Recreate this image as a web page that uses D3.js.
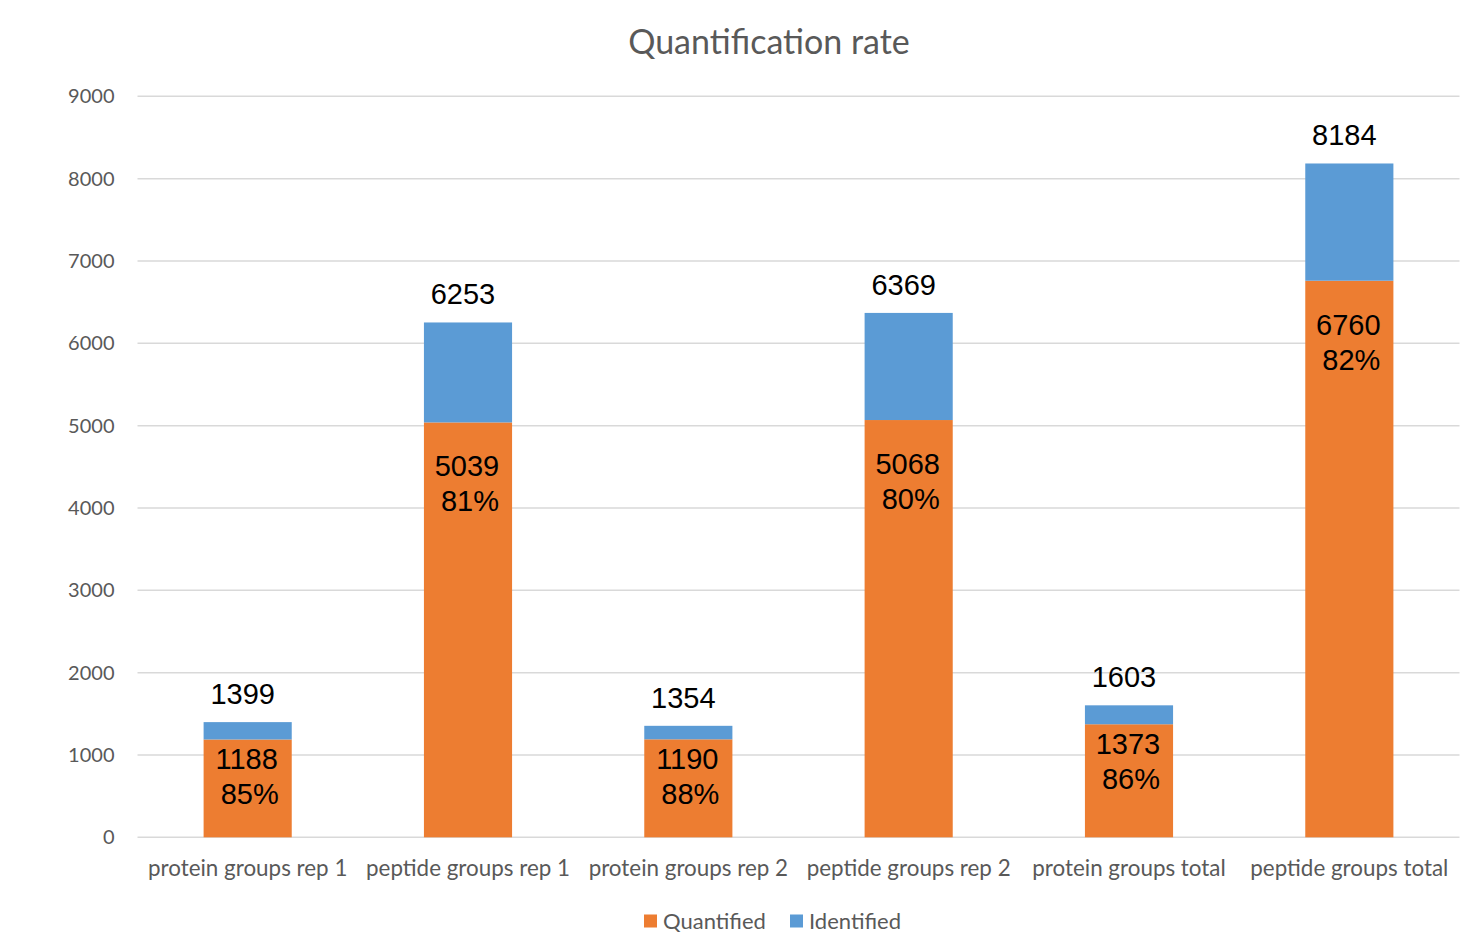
<!DOCTYPE html>
<html>
<head>
<meta charset="utf-8">
<script src="https://cdn.jsdelivr.net/npm/d3@7/dist/d3.min.js"></script>
<style>
  html, body { margin: 0; padding: 0; background: #ffffff; }
  svg { display: block; }
</style>
</head>
<body>
<script>
// Chart data
const categories = [
  "protein groups rep 1",
  "peptide groups rep 1",
  "protein groups rep 2",
  "peptide groups rep 2",
  "protein groups total",
  "peptide groups total"
];
const totals = [1399, 6253, 1354, 6369, 1603, 8184];       // identified in total
const quantified = [1188, 5039, 1190, 5068, 1373, 6760];   // quantified subset
const quantifiedPct = [85, 81, 88, 80, 86, 82];            // share quantified, %
const yTicks = [0, 1000, 2000, 3000, 4000, 5000, 6000, 7000, 8000, 9000];
const seriesNames = ["Quantified", "Identified"];

const W = 1483, H = 937;
const colors = { Quantified: "#ED7D31", Identified: "#5B9BD5" };
const textGray = "#595959";
const uiFont = "Lato, 'Open Sans', sans-serif";
const labelFont = "'Liberation Sans', Arial, sans-serif";

const svg = d3.select("body").append("svg")
  .attr("width", W).attr("height", H);

const plot = { left: 137.5, right: 1459.5, top: 96.3, bottom: 837.3 };

const x = d3.scaleBand()
  .domain(categories)
  .range([plot.left, plot.right])
  .paddingInner(0.6)
  .paddingOuter(0.3);

const y = d3.scaleLinear()
  .domain([0, 9000])
  .range([plot.bottom, plot.top]);

// Stack rows: quantified on the bottom, the rest of the identified on top
const rows = categories.map((c, i) => ({
  category: c,
  Quantified: quantified[i],
  Identified: totals[i] - quantified[i],
  total: totals[i],
  pct: quantifiedPct[i]
}));
const stacked = d3.stack().keys(seriesNames)(rows);

// Title
svg.append("text")
  .attr("x", 769).attr("y", 53.5)
  .attr("text-anchor", "middle")
  .attr("font-family", uiFont)
  .attr("font-size", 34)
  .attr("fill", textGray)
  .text("Quantification rate");

// Gridlines
svg.append("g")
  .selectAll("line")
  .data(yTicks)
  .join("line")
  .attr("x1", plot.left).attr("x2", plot.right)
  .attr("y1", d => y(d)).attr("y2", d => y(d))
  .attr("stroke", "#D9D9D9")
  .attr("stroke-width", 1.5);

// Y axis labels
const yAxis = svg.append("g")
  .attr("transform", `translate(${plot.left},0)`)
  .call(d3.axisLeft(y).tickValues(yTicks).tickSize(0).tickPadding(23).tickFormat(d3.format("d")));
yAxis.select(".domain").remove();
yAxis.selectAll("text")
  .attr("font-family", uiFont)
  .attr("font-size", 20)
  .attr("fill", textGray);

// Bars
svg.append("g")
  .selectAll("g")
  .data(stacked)
  .join("g")
  .attr("fill", d => colors[d.key])
  .selectAll("rect")
  .data(d => d)
  .join("rect")
  .attr("x", d => x(d.data.category))
  .attr("width", x.bandwidth())
  .attr("y", d => y(d[1]))
  .attr("height", d => y(d[0]) - y(d[1]));

// X axis labels
const xAxis = svg.append("g")
  .attr("transform", `translate(0,${plot.bottom})`)
  .call(d3.axisBottom(x).tickSize(0).tickPadding(23));
xAxis.select(".domain").remove();
xAxis.selectAll("text")
  .attr("font-family", uiFont)
  .attr("font-size", 22.4)
  .attr("fill", textGray);

// Total labels above each bar
svg.append("g")
  .selectAll("text")
  .data(rows)
  .join("text")
  .attr("x", d => x(d.category) + x.bandwidth() / 2 - 5)
  .attr("y", d => y(d.total) - 18)
  .attr("text-anchor", "middle")
  .attr("font-family", labelFont)
  .attr("font-size", 29)
  .attr("fill", "#000")
  .text(d => d.total);

// Quantified count and share inside the orange segment
const inner = svg.append("g")
  .selectAll("text")
  .data(rows)
  .join("text")
  .attr("text-anchor", "middle")
  .attr("font-family", labelFont)
  .attr("font-size", 29)
  .attr("fill", "#000");
inner.each(function (d) {
  const cx = x(d.category) + x.bandwidth() / 2;
  const h = y(0) - y(d.Quantified);
  const top = y(d.Quantified) + (h > 300 ? 54 : 30);
  const t = d3.select(this);
  t.append("tspan").attr("x", cx - 1).attr("y", top).text(d.Quantified);
  t.append("tspan").attr("x", cx + 2).attr("y", top + 35).text(d.pct + "%");
});

// Legend
const legend = svg.append("g");
const legendItems = [
  { name: "Quantified", x: 644 },
  { name: "Identified", x: 790 }
];
legendItems.forEach(it => {
  legend.append("rect")
    .attr("x", it.x).attr("y", 914.5)
    .attr("width", 13).attr("height", 13)
    .attr("fill", colors[it.name]);
  legend.append("text")
    .attr("x", it.x + 19).attr("y", 928.5)
    .attr("font-family", uiFont)
    .attr("font-size", 22)
    .attr("fill", textGray)
    .text(it.name);
});
</script>
</body>
</html>
